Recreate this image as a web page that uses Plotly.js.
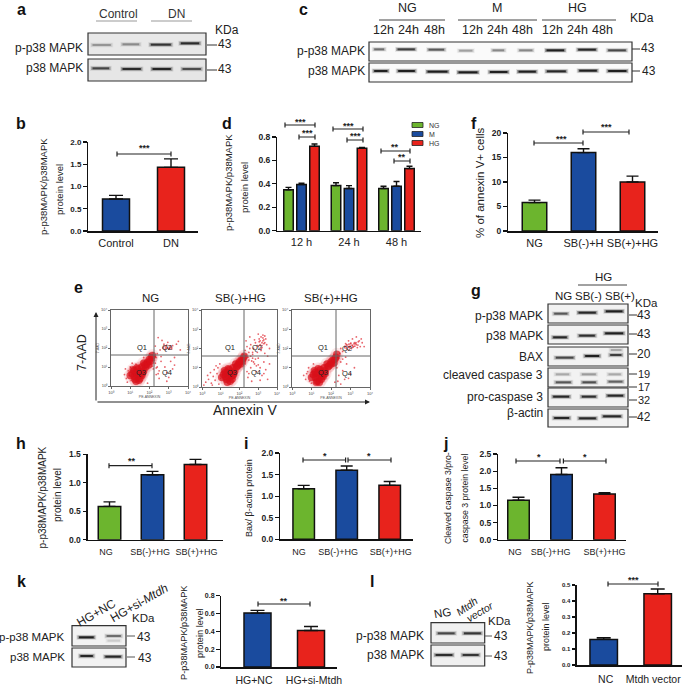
<!DOCTYPE html>
<html><head><meta charset="utf-8">
<script src="https://cdn.plot.ly/plotly-3.0.1.min.js"></script>
<style>html,body{margin:0;padding:0;background:#fff}#c{width:685px;height:686px}</style>
</head><body><div id="c"></div>
<script>
// ---------- chart values ----------
const GREEN='#6cb52e',BLUE='#1a4b9e',RED='#e8231c';
const bLabels=['Control','DN'],bVals=[0.72,1.43],bTops=[0.80,1.62];
const dLabels=['12 h','24 h','48 h'];
const dNG=[0.35,0.385,0.36],dNGtop=[0.37,0.41,0.38];
const dM=[0.395,0.36,0.38],dMtop=[0.405,0.385,0.42];
const dHG=[0.72,0.705,0.53],dHGtop=[0.74,0.71,0.55];
const fLabels=['NG','SB(-)+H','SB(+)+HG'],fVals=[5.8,16,10],fTops=[6.3,16.8,11.2];
const sbLabels=['NG','SB(-)+HG','SB(+)+HG'];
const hVals=[0.585,1.14,1.32],hTops=[0.665,1.2,1.41];
const iVals=[1.17,1.6,1.25],iTops=[1.25,1.7,1.34];
const jVals=[1.15,1.9,1.33],jTops=[1.24,2.1,1.37];
const kLabels=['HG+NC','HG+si-Mtdh'],kVals=[0.605,0.41],kTops=[0.635,0.455];
const lLabels=['NC','Mtdh vector'],lVals=[0.16,0.445],lTops=[0.17,0.475];
// flow cytometry points read by eye, log10 units
const ngCoreX=[1.2,1.4,1.6,1.3,1.5,1.7,1.4,1.6,1.8,1.7,1.9,2.0,2.1,1.5,1.1,1.25,1.55,1.0,1.15,1.35,1.45,1.65,1.75,1.85,1.95,2.05,1.3,1.2,2.15];
const ngCoreY=[.5,.5,.55,.7,.75,.8,.9,1.0,1.0,1.2,1.25,1.4,1.5,.4,.65,.35,.6,.55,.85,.95,.3,.7,1.1,1.15,1.1,1.3,.25,.8,1.6];
const ngSpX=[.7,.8,.9,.85,1.0,1.05,.95,.75,1.1,1.3,1.7,2.0,2.2,2.3,2.4,2.5,2.35,2.6,2.8,2.9,3.0,3.1,3.2,3.3,3.05,2.85,2.7,3.4,3.5,2.55,2.75,2.95,3.15,2.45,2.65,2.3,2.5,2.9,3.3,3.6,2.35,2.2,1.9,2.4,2.6,2.95,3.1,3.0,2.85,2.9,3.05,3.15,2.8,2.75,3.2,2.25,2.35,2.45,2.15,2.3];
const ngSpY=[.6,.4,.8,.2,1.0,.3,.55,.9,1.2,1.15,1.5,1.7,1.75,1.2,1.0,.8,.6,1.3,1.0,.7,.45,1.3,.9,1.5,2.05,2.1,2.0,2.2,2.35,1.9,2.2,2.3,1.95,2.55,2.4,2.1,.4,.25,1.1,1.9,1.5,.9,.15,1.7,1.55,2.0,2.1,1.95,2.0,2.15,1.98,2.02,1.92,2.08,2.12,1.35,.95,.65,1.05,1.55];
const sbmCoreX=[1.25,1.45,1.65,1.35,1.55,1.75,1.45,1.65,1.85,1.8,2.0,2.1,2.2,1.6,1.15,1.3,1.6,1.05,1.2,1.4,1.5,1.7,1.9,1.95,2.05,2.15,1.35,1.25,2.25];
const sbmCoreY=[.55,.5,.6,.75,.75,.85,.9,1.0,1.05,1.2,1.3,1.4,1.5,.4,.65,.4,.6,.5,.85,.95,.3,.7,1.1,1.2,1.2,1.35,.25,.75,1.6];
const sbmSpX=[.1,.2,.35,.5,.6,.7,.8,.9,.3,.45,.65,.85,1.0,.95,.75,.55,2.3,2.4,2.5,2.6,2.7,2.8,2.9,3.0,3.1,3.2,3.3,3.4,3.5,3.6,2.45,2.65,2.85,3.05,3.25,3.45,2.35,2.55,2.75,2.95,3.15,3.35,2.5,2.7,2.9,3.1,3.3,3.0,3.1,3.2,3.25,3.3,3.15,2.95,3.05,3.35,2.6,2.8,3.0,3.2,2.4,2.7,3.5,3.6,2.2,2.3,3.1,3.2,3.3,3.4,3.15,3.25,3.35,2.5,2.6,2.75,2.85,3.0,2.45,2.55,2.65,2.35];
const sbmSpY=[.1,.25,.4,.2,.55,.35,.7,.15,.6,.75,.9,1.0,.45,1.2,1.1,.1,1.9,2.1,1.4,1.0,1.7,1.2,.8,1.5,1.0,.6,1.3,.9,1.6,1.2,.5,.3,2.3,2.5,2.7,2.2,2.4,2.6,2.0,1.8,1.9,1.75,.7,1.5,1.1,.35,.7,2.1,2.2,2.3,2.55,2.45,2.0,2.15,2.35,2.3,2.2,2.45,2.75,2.05,.8,1.8,.4,2.0,1.7,1.2,2.4,2.15,2.25,2.5,2.6,2.4,2.65,1.8,1.6,1.3,1.45,1.15,1.55,2.0,1.35,1.65];
const sbpCoreX=[1.2,1.4,1.6,1.3,1.5,1.7,1.45,1.65,1.85,1.8,2.0,2.1,2.25,1.5,1.1,1.3,1.55,1.0,1.15,1.35,1.4,1.7,1.9,2.0,2.15,2.2,1.25,1.2,2.3];
const sbpCoreY=[.5,.5,.55,.7,.75,.85,.9,1.0,1.05,1.2,1.3,1.4,1.55,.4,.65,.3,.6,.5,.85,.95,.25,.7,1.1,1.2,1.25,1.45,.25,.75,1.7];
const sbpSpX=[.6,.7,.8,.9,.85,1.0,.75,.95,1.1,2.3,2.4,2.5,2.6,2.7,2.4,2.6,2.8,3.0,3.2,2.35,2.45,2.75,2.7,2.8,2.9,3.0,3.1,3.2,3.3,3.4,3.5,2.85,2.95,3.05,3.15,3.25,3.35,3.45,2.75,2.9,3.1,3.3,3.55,3.6,2.5,2.6,3.7,2.5,2.9,2.2,2.72,2.78,2.82,2.88,2.92,2.98,3.02,3.08,3.12,3.18,3.22,3.28,3.38];
const sbpSpY=[.6,.4,.8,.3,1.0,.2,.7,.55,1.2,1.0,.6,1.3,.85,.4,1.5,1.45,1.2,.7,1.0,.3,1.75,1.55,2.05,2.2,2.1,2.25,2.15,2.3,2.2,2.35,2.1,1.95,2.05,2.0,2.1,2.25,2.05,2.4,2.25,2.4,2.5,2.6,2.5,2.3,2.0,1.85,2.1,.15,.45,.25,2.12,2.02,2.18,2.08,2.22,2.12,2.28,2.18,2.06,2.24,2.12,2.3,2.18];
// blot bands: [left, right, y, darkness]
const blotA=[[270,340,135,.3],[360,425,133,.35],[445,520,134,.8],[535,605,130,.85],[270,335,205,.7],[360,430,207,.85],[450,520,207,.9],[540,610,207,.65]];
const blotC=[[245,290,148,.5],[315,382,148,.75],[408,470,149,.6],[500,555,152,.3],[600,650,151,.4],[680,735,151,.4],[762,830,151,.95],[857,925,149,.9],[947,1015,151,.7],[245,300,213,.95],[317,382,213,.95],[405,480,215,.98],[498,570,217,.98],[592,660,216,.95],[678,745,215,.95],[763,835,214,.9],[860,928,212,.95],[947,1017,213,.95]];
const blotG=[[275,330,131,.6],[348,415,128,.9],[430,495,124,.95],[272,328,202,.9],[350,412,197,.85],[428,497,190,.95],[280,348,263,.7],[368,425,258,.95],[443,492,255,.75],[445,492,240,.25],[280,335,313,.25],[358,415,313,.3],[438,490,313,.25],[280,340,337,.6],[360,415,337,.65],[438,495,335,.55],[272,335,380,.9],[358,415,380,.85],[435,497,377,.9],[275,335,444,.9],[350,415,445,.9],[422,490,439,.9]];
const blotK=[[175,220,232,.95],[238,282,228,.5],[240,280,242,.12],[178,218,288,.9],[235,282,290,.9]];
const blotL=[[995,1045,220,.7],[1055,1105,220,.8],[990,1040,285,.85],[1052,1100,285,.8]];

// ---------- helpers ----------
const F='"Liberation Sans", Arial, sans-serif',TXT='#222';
const traces=[{x:[],y:[],type:'scatter',xaxis:'x',yaxis:'y',hoverinfo:'skip',showlegend:false}];
const shapes=[],annotations=[];
const layout={width:685,height:686,margin:{l:0,r:0,t:0,b:0},paper_bgcolor:'#fff',plot_bgcolor:'rgba(0,0,0,0)',showlegend:false,barmode:'overlay',
 font:{family:F,color:TXT},shapes,annotations,
 xaxis:{domain:[0,1],range:[0,685],visible:false,fixedrange:true},
 yaxis:{domain:[0,1],range:[686,0],visible:false,fixedrange:true}};
function T(t,x,y,size,o={}){annotations.push(Object.assign({text:t,x,y,xref:'x',yref:'y',showarrow:false,font:{family:F,size,color:o.color||TXT,weight:o.weight||400},xanchor:o.xa||'center',yanchor:'middle',textangle:o.rot||0,borderpad:0},o.extra||{}));}
function L(x0,y0,x1,y1,c='#333',w=1){shapes.push({type:'line',x0,y0,x1,y1,xref:'x',yref:'y',line:{color:c,width:w}});}
function box(x0,y0,x1,y1,fill,c='#333',w=1.2){shapes.push({type:'rect',x0,y0,x1,y1,xref:'x',yref:'y',fillcolor:fill,line:{color:c,width:w}});}
function bracket(x0,x1,y,cap=2.5,c='#222',w=1.2){shapes.push({type:'path',path:`M ${x0} ${y-cap} L ${x0} ${y+cap} M ${x0} ${y} L ${x1} ${y} M ${x1} ${y-cap} L ${x1} ${y+cap}`,xref:'x',yref:'y',line:{color:c,width:w}});}
function bands(list,ox,oy,sx,sy){list.forEach(b=>{const x0=ox+b[0]*sx,x1=ox+b[1]*sx,y=oy+b[2]*sy,d=b[3];
 [[5,.12,0],[3.4,.35,1],[2,.9,2.5]].forEach(p=>{shapes.push({type:'rect',x0:x0+p[2],x1:x1-p[2],y0:y-p[0]/2,y1:y+p[0]/2,xref:'x',yref:'y',fillcolor:`rgba(12,12,12,${(p[1]*d).toFixed(3)})`,line:{width:0}});});});}
let axN=1;
function barPanel(o){
 axN++;const xk='x'+axN,yk='y'+axN;
 const r=[(o.x0-o.c0)/o.d,(o.x1-o.c0)/o.d];
 layout['xaxis'+axN]={domain:[o.x0/685,o.x1/685],range:r,anchor:yk,showline:true,linecolor:'#111',linewidth:1.5,zeroline:false,showgrid:false,fixedrange:true,
  tickmode:'array',tickvals:o.labels.map((_,i)=>i+(o.shift?o.shift[i]/o.d:0)),ticktext:o.labels,ticks:'outside',ticklen:o.labLen===undefined?1:o.labLen,tickcolor:'rgba(0,0,0,0)',tickfont:{family:F,size:o.labelSize,color:TXT}};
 layout['yaxis'+axN]={domain:[1-o.bot/686,1-o.top/686],range:[0,o.max],anchor:xk,showline:true,linecolor:'#111',linewidth:1.5,zeroline:false,showgrid:false,fixedrange:true,
  tick0:0,dtick:o.dtick,tickformat:o.fmt||'.1f',ticks:'outside',ticklen:3.5,tickwidth:1.2,tickcolor:'#111',tickfont:{family:F,size:o.tickSize,color:TXT,weight:700}};
 (o.series||[{vals:o.vals,tops:o.tops,colors:o.colors,off:null}]).forEach(s=>{
  const t={type:'bar',x:s.vals.map((_,i)=>i),y:s.vals,xaxis:xk,yaxis:yk,width:o.w/o.d,marker:{color:s.colors,line:{color:'#111',width:1.5}},
   error_y:{type:'data',symmetric:false,array:s.tops.map((v,i)=>+(v-s.vals[i]).toFixed(3)),arrayminus:s.vals.map(()=>0),color:'#111',thickness:1.4,width:o.capw},hoverinfo:'skip'};
  if(s.off!==null&&s.off!==undefined)t.offset=(s.off-o.w/2)/o.d;
  traces.push(t);});
}
function flow(ox0,ox1,oy0,oy1,gx,gy,coreX,coreY,spX,spY){
 axN++;const xk='x'+axN,yk='y'+axN;
 const tv=[1,10,100,1000,10000],tt=['10⁰','10¹','10²','10³','10⁴'];
 const ax={showline:true,mirror:true,linecolor:'#666',linewidth:1,zeroline:false,showgrid:false,fixedrange:true,type:'log',range:[0,4],tickmode:'array',tickvals:tv,ticktext:tt,ticks:'outside',ticklen:2,tickcolor:'#666',tickfont:{family:F,size:4,color:'#444'}};
 layout['xaxis'+axN]=Object.assign({},ax,{domain:[ox0/685,ox1/685],anchor:yk,title:{text:'PE-ANNEXIN',font:{size:3.5,color:'#555'},standoff:1}});
 layout['yaxis'+axN]=Object.assign({},ax,{domain:[1-oy1/686,1-oy0/686],anchor:xk,title:{text:'7-AAD',font:{size:3.5,color:'#555'},standoff:1}});
 const pow=a=>a.map(v=>Math.pow(10,v));
 traces.push({type:'scatter',mode:'markers',x:pow(coreX),y:pow(coreY),xaxis:xk,yaxis:yk,marker:{size:13,color:'#e8404a',opacity:.12},hoverinfo:'skip'});
 traces.push({type:'scatter',mode:'markers',x:pow(spX),y:pow(spY),xaxis:xk,yaxis:yk,marker:{size:1.8,color:'#e0303a',opacity:.75},hoverinfo:'skip'});
 traces.push({type:'scatter',mode:'markers',x:pow(coreX),y:pow(coreY),xaxis:xk,yaxis:yk,marker:{size:7.5,color:'#d8101a',opacity:.7},hoverinfo:'skip'});
 L(gx,oy0,gx,oy1,'#666',1);L(ox0,gy,ox1,gy,'#666',1);
}
function stars(t,x,y){T(t,x,y,9,{weight:700});}

// ---------- panel letters ----------
[['a',21,9],['b',21,123],['c',303,9],['d',227,123],['e',78,287],['f',474,123],['g',476,290],['h',21,443],['i',246,443],['j',445,443],['k',21,581],['l',372,581]].forEach(p=>T(p[0],p[1],p[2],16,{weight:700,color:'#111'}));

// ---------- a ----------
T('Control',118,14,12,{color:'#333'});T('DN',176,14,12,{color:'#333'});L(96,21,137,21,'#999',1);L(151,21,192,21,'#bbb',1.5);
box(88,33,206,55,'#e8e8e8');box(88,59,206,81,'#e6e6e6');bands(blotA,0,0,1/3,1/3);
T('p-p38 MAPK',84,48,12,{xa:'right'});T('p38 MAPK',84,68,12,{xa:'right'});
T('KDa',227,30,12);L(207,45,217,45);L(207,70,217,70);T('43',225,44,12);T('43',225,69,12);

// ---------- c ----------
const chead=[['NG',407,379,445],['M',497,458,537],['HG',577,542,616]];
chead.forEach(h=>{T(h[0],h[1],8,12.5);L(h[2],20,h[3],20,'#444',1);});
[383,408,434,472,497,522,552,577,602].forEach((x,i)=>T(['12h','24h','48h'][i%3],x,30,12.5));
box(369,42,632,61,'#fafafa');box(369,63,632,82,'#fafafa');bands(blotC,290,0,1/3,1/3);
T('p-p38 MAPK',366,51,12,{xa:'right'});T('p38 MAPK',366,71,12,{xa:'right'});T('KDa',642,18,12);
L(632,49,640,49);L(632,71,640,71);T('43',648,48,12);T('43',649,71,12);

// ---------- b ----------
barPanel({x0:88,x1:198,top:142,bot:231,max:2,dtick:.5,c0:116,d:55,w:27,labels:bLabels,vals:bVals,tops:bTops,colors:[BLUE,RED],capw:7,tickSize:8,labelSize:11});
bracket(117,171,154);stars('***',144,148);
T('p-p38MAPK/p38MAPK',43,187,9.5,{rot:-90});T('protein level',59,190,9.5,{rot:-90});

// ---------- d ----------
barPanel({x0:277,x1:421,top:137,bot:230.7,max:.8,dtick:.2,c0:301.5,d:47.5,w:9.5,labels:dLabels,tickSize:8.5,labelSize:11,capw:3,
 series:[{vals:dNG,tops:dNGtop,colors:GREEN,off:-13},{vals:dM,tops:dMtop,colors:BLUE,off:0},{vals:dHG,tops:dHGtop,colors:RED,off:13}]});
bracket(285,315,125);stars('***',300,122);bracket(299,315,137);stars('***',307,133);
bracket(333,363,129);stars('***',348,126);bracket(347,363,140);stars('***',355,136);
bracket(381,410,151);stars('**',395,147);bracket(394,410,161);stars('**',402,157);
T('p-p38MAPK/p38MAPK',228,183,9.5,{rot:-90});T('protein level',244,188,9.5,{rot:-90});
[['NG',125,GREEN],['M',134,BLUE],['HG',143,RED]].forEach(s=>{box(412,s[1]-2.5,423,s[1]+2.5,s[2],'#222',.8);T(s[0],428,s[1],7,{xa:'left',color:'#333'});});

// ---------- f ----------
barPanel({x0:508,x1:658,top:133,bot:231,max:20,dtick:5,c0:534.5,d:49,w:24.5,labels:fLabels,vals:fVals,tops:fTops,colors:[GREEN,BLUE,RED],capw:6,tickSize:8.5,labelSize:11,fmt:'d'});
bracket(534,583,143);stars('***',561,138.5);bracket(583,629,132);stars('***',606,127);
T('% of annexin V+ cells',480,183,11.5,{rot:-90});

// ---------- e ----------
T('NG',150,298,11.5);T('SB(-)+HG',240,298,11.5);T('SB(+)+HG',331,298,11.5);
flow(111,188,310,386,154,355,ngCoreX,ngCoreY,ngSpX,ngSpY);
flow(202,277,310,387,244,356,sbmCoreX,sbmCoreY,sbmSpX,sbmSpY);
flow(292,370,310,387,336,356,sbpCoreX,sbpCoreY,sbpSpX,sbpSpY);
[[142,347,'Q1'],[167,347,'Q2'],[141,372,'Q3'],[167,372,'Q4'],[230,347,'Q1'],[257,347,'Q2'],[232,372,'Q3'],[256,372,'Q4'],[323,347,'Q1'],[347,348,'Q2'],[323,372,'Q3'],[347,373,'Q4']].forEach(q=>T(q[2],q[0],q[1],7.5));
annotations.push({x:96,y:312,ax:96,ay:402,xref:'x',yref:'y',axref:'x',ayref:'y',text:'',showarrow:true,arrowhead:2,arrowsize:1,arrowwidth:1,arrowcolor:'#222'});
annotations.push({x:370,y:402,ax:96,ay:402,xref:'x',yref:'y',axref:'x',ayref:'y',text:'',showarrow:true,arrowhead:2,arrowsize:1,arrowwidth:1,arrowcolor:'#222'});
T('7-AAD',82,353,12.5,{rot:-90});T('Annexin V',245,410,14);

// ---------- g ----------
T('HG',603,277,11.5);L(578,285,627,285,'#444',1);T('NG',563,296,11.5);T('SB(-)',588,296,11.5);T('SB(+)',620,296,11.5);T('KDa',646,303,11.5);
[[304,323],[325,344],[347,366],[368,387],[388,407],[409,427]].forEach(r=>box(548,r[0],628,r[1],'#f2f2f2'));
bands(blotG,460,270,1/3,1/3);
[['p-p38 MAPK',316],['p38 MAPK',336],['BAX',357],['cleaved caspase 3',375],['pro-caspase 3',397],['β-actin',413]].forEach(r=>T(r[0],544,r[1],12,{xa:'right'}));
[['43',315,12],['43',334,12],['20',354,12],['19',374,11],['17',387,11],['32',400,11],['42',417,12]].forEach(r=>{L(629,r[1],637,r[1]);T(r[0],644,r[1],r[2]);});

// ---------- h, i, j ----------
barPanel({x0:87.5,x1:223,top:454.3,bot:539.7,max:1.5,dtick:.5,c0:109.5,d:43,w:22.5,labels:sbLabels,shift:[-3.5,-2.5,1],vals:hVals,tops:hTops,colors:[GREEN,BLUE,RED],capw:6,tickSize:8.5,labelSize:9,labLen:3});
bracket(109,152,465.7);stars('**',132,461);
T('p-p38MAPK/p38MAPK',41.5,498,10,{rot:-90});T('protein level',57,495,10,{rot:-90});
barPanel({x0:280,x1:413,top:453,bot:539.3,max:2,dtick:.5,c0:303.7,d:43,w:21.5,labels:sbLabels,shift:[-4.7,-8.5,1],vals:iVals,tops:iTops,colors:[GREEN,BLUE,RED],capw:6,tickSize:8.5,labelSize:9,labLen:3});
bracket(303,345.6,460);bracket(348,391,460);stars('*',325,456);stars('*',369,456);
T('Bax/ β-actin protein',249,498,9,{rot:-90});
barPanel({x0:498,x1:625.5,top:454,bot:539.7,max:2.5,dtick:.5,c0:518.5,d:43,w:21.5,labels:sbLabels,shift:[-3.5,-11,0],vals:jVals,tops:jTops,colors:[GREEN,BLUE,RED],capw:6,tickSize:8.5,labelSize:9,labLen:3});
bracket(516,560,461);bracket(563.4,606,461);stars('*',539,457);stars('*',585,457);
T('Cleaved caspase 3/pro-',448,498,8.7,{rot:-90});T('caspase 3 protein level',464.5,498,8.7,{rot:-90});

// ---------- k ----------
box(72,625.7,126,646,'#f2f2f2');box(72,648,126,667,'#f2f2f2');bands(blotK,0,560,1/2.286,1/3);
T('p-p38 MAPK',66,637,11.5,{xa:'right'});T('p38 MAPK',66,657,11.5,{xa:'right'});
T('HG+NC',96,613,12,{rot:-30});T('HG+si-<i>Mtdh</i>',139,603,12,{rot:-30});T('KDa',143.5,618,11.5);
L(127,636,135,636,'#555');L(127,657,135,657,'#555');T('43',144,637,12);T('43',145,658,12);
barPanel({x0:221,x1:337,top:595.7,bot:667,max:.8,dtick:.2,c0:257.5,d:53.5,w:27,labels:kLabels,shift:[-3.5,3],vals:kVals,tops:kTops,colors:[BLUE,RED],capw:7,tickSize:7,labelSize:10.5,labLen:3});
bracket(258,310,604);stars('**',284,600.7);
T('P-p38MAPK/p38MAPK',184,633,9.2,{rot:-90});T('protein level',200,633,9.2,{rot:-90});

// ---------- l ----------
box(431,622.7,484.7,643,'#f0f0f0');box(431,645,484.7,666,'#f0f0f0');bands(blotL,0,560,1/2.286,1/3);
T('p-p38 MAPK',425,636,12,{xa:'right'});T('p38 MAPK',425,655,12,{xa:'right'});
T('NG',442,613,11.5,{rot:-10});T('<i>Mtdh</i>',467,606,10.5,{rot:-35});T('<i>vector</i>',479,611.5,10.5,{rot:-30});T('KDa',499,621,11.5);
L(485,636,492,636,'#555');L(485,656,492,656,'#555');T('43',501,636,12);T('43',501,656,12);
barPanel({x0:576.5,x1:682,top:585,bot:665,max:.5,dtick:.1,c0:603.7,d:54,w:27.5,labels:lLabels,shift:[2,-4.5],vals:lVals,tops:lTops,colors:[BLUE,RED],capw:7,tickSize:6,labelSize:10.5,labLen:4});
bracket(608,658,584);stars('***',633,580);
T('P-p38MAPK/p38MAPK',530,628,9,{rot:-90});T('protein level',546,627,9,{rot:-90});

Plotly.newPlot('c',traces,layout,{staticPlot:true,displayModeBar:false});
</script></body></html>
